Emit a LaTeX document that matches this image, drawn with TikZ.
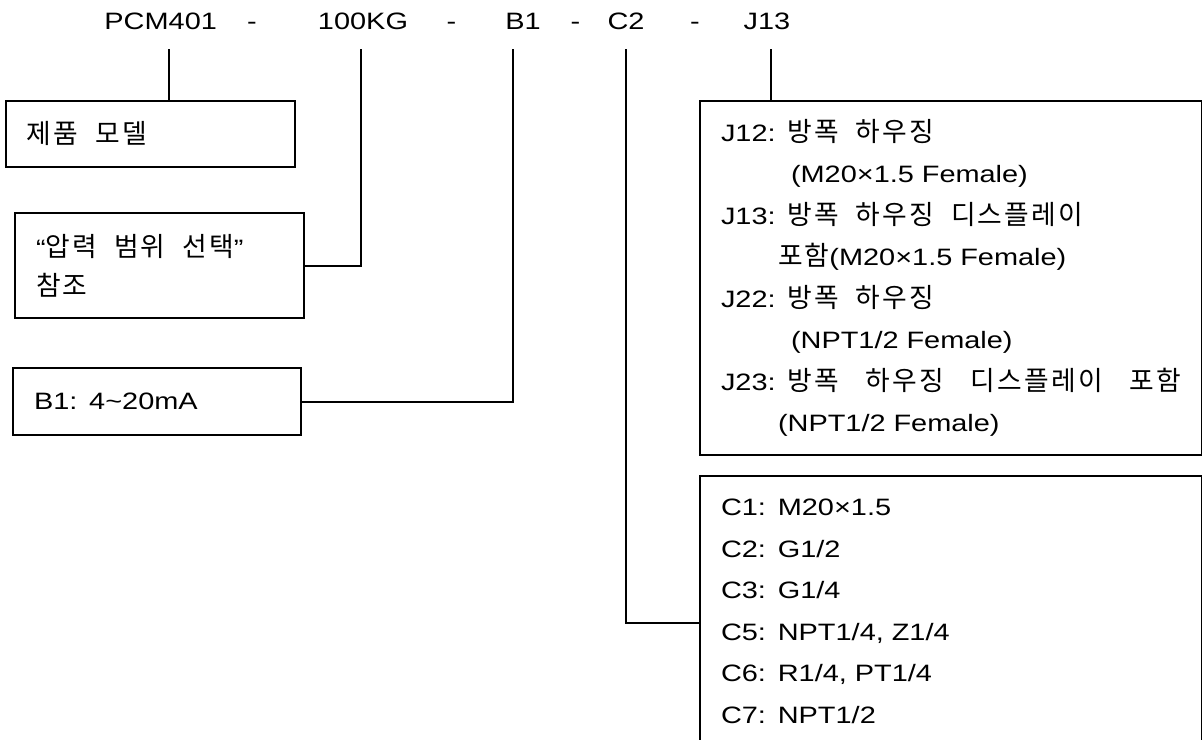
\documentclass[tikz,border=0pt]{standalone}
\usepackage{fontspec}
\setmainfont{Liberation Sans}[FakeStretch=1.22]
\newfontfamily\krfont{Noto Sans CJK KR}[Scale=1.13,LetterSpace=8]
\newcommand\kr[1]{{\krfont\spaceskip=17pt plus 12pt minus 8pt #1}}

\begin{document}
\begin{tikzpicture}[x=1pt,y=-1pt,
    every node/.style={font=\fontsize{23.7}{41.5}\selectfont},
    codebox/.style={draw,line width=2pt,anchor=north west,align=left,
        inner xsep=21pt,inner ysep=0pt},
    wire/.style={line width=2pt}]
    \def\tickTop{49}
    \def\codeBase{29.3}
    \def\listWidth{459.5pt}

    \useasboundingbox (0,0) rectangle (1202,739);
    \clip (0,0) rectangle (1202,739);

    %codigo do produto
    \foreach \x/\name/\txt in {
        160.7/pcm/PCM401, 252/dashA/-, 363/kg/100KG, 451.5/dashB/-,
        523/bone/B1, 575.5/dashC/-, 626/ctwo/C2, 695/dashD/-, 767/jthirteen/J13
    } {
        \node[anchor=base] (\name) at (\x,\codeBase) {\txt};
    }

    \foreach \x/\name in {169/pcmtick, 361/kgtick, 513/btick, 625.5/ctick, 771/jtick} {
        \coordinate (\name) at (\x,\tickTop);
    }

    %caixas
    \node[codebox,text width=247pt,minimum height=66pt] (model) at (5,99.5)
        {\kr{제품 모델}};
    \node[codebox,text width=246.5pt,minimum height=104.5pt,
        font=\fontsize{23.7}{39}\selectfont] (range) at (14,212.3)
        {\mbox{“\kr{압력 범위 선택}”}\\\kr{참조}};
    \node[codebox,text width=246pt,minimum height=67pt] (signal) at (12,367.3)
        {B1: 4\textasciitilde20mA};
    \node[codebox,text width=\listWidth,minimum height=354.5pt] (jbox) at (699,99.5)
        {\mbox{J12: \kr{방폭 하우징}}\\
         \mbox{\hspace*{70pt}(M20×1.5 Female)}\\
         \mbox{J13: \kr{방폭 하우징 디스플레이}}\\
         \mbox{\hspace*{57pt}\kr{포함}(M20×1.5 Female)}\\
         \mbox{J22: \kr{방폭 하우징}}\\
         \mbox{\hspace*{70pt}(NPT1/2 Female)}\\
         \makebox[460pt][s]{J23: \kr{방폭 하우징 디스플레이 포함}}\\
         \mbox{\hspace*{57pt}(NPT1/2 Female)}};
    \node[codebox,text width=\listWidth,minimum height=272pt] (cbox) at (699,474.5)
        {C1: M20×1.5\\
         C2: G1/2\\
         C3: G1/4\\
         C5: NPT1/4, Z1/4\\
         C6: R1/4, PT1/4\\
         C7: NPT1/2};

    %ligacoes
    \draw[wire] (pcmtick) -- (pcmtick |- model.north);
    \draw[wire] (kgtick) |- (range.east);
    \draw[wire] (btick) |- (signal.east);
    \draw[wire] (ctick) |- (cbox.west |- 0,623.3);
    \draw[wire] (jtick) -- (jtick |- jbox.north);
\end{tikzpicture}
\end{document}
